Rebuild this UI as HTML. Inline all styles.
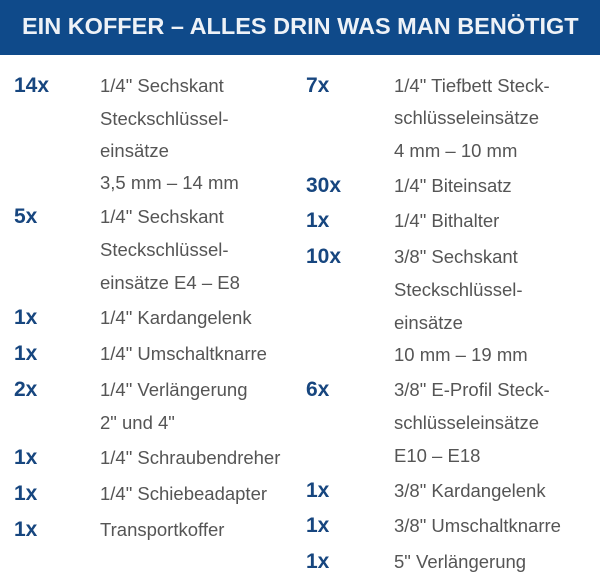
<!DOCTYPE html>
<html><head><meta charset="utf-8"><style>
body{margin:0;width:600px;height:576px;background:#fff;position:relative;overflow:hidden;font-family:"Liberation Sans",Arial,sans-serif}
#hdr{position:absolute;left:0;top:0;width:600px;height:55px;background:#0f4a8a}
#hdr span{position:absolute;left:22px;top:13px;font-size:23.5px;font-weight:bold;color:#eef2f7;white-space:nowrap}
.q{position:absolute;font-weight:bold;font-size:21px;color:#17467f;line-height:24px}
.d{position:absolute;font-size:18.5px;color:#555;line-height:24px;white-space:nowrap}
</style></head><body>
<div id="hdr"><span>EIN KOFFER – ALLES DRIN WAS MAN BENÖTIGT</span></div>
<div>
<div class="q" style="left:14px;top:74px">14x</div>
<div class="d" style="left:100px;top:74px">1/4" Sechskant</div>
<div class="d" style="left:100px;top:107px">Steckschlüssel-</div>
<div class="d" style="left:100px;top:139px">einsätze</div>
<div class="d" style="left:100px;top:171px">3,5 mm – 14 mm</div>
<div class="q" style="left:14px;top:205px">5x</div>
<div class="d" style="left:100px;top:205px">1/4" Sechskant</div>
<div class="d" style="left:100px;top:238px">Steckschlüssel-</div>
<div class="d" style="left:100px;top:271px">einsätze E4 – E8</div>
<div class="q" style="left:14px;top:306px">1x</div>
<div class="d" style="left:100px;top:306px">1/4" Kardangelenk</div>
<div class="q" style="left:14px;top:342px">1x</div>
<div class="d" style="left:100px;top:342px">1/4" Umschaltknarre</div>
<div class="q" style="left:14px;top:378px">2x</div>
<div class="d" style="left:100px;top:378px">1/4" Verlängerung</div>
<div class="d" style="left:100px;top:411px">2" und 4"</div>
<div class="q" style="left:14px;top:446px">1x</div>
<div class="d" style="left:100px;top:446px">1/4" Schraubendreher</div>
<div class="q" style="left:14px;top:482px">1x</div>
<div class="d" style="left:100px;top:482px">1/4" Schiebeadapter</div>
<div class="q" style="left:14px;top:518px">1x</div>
<div class="d" style="left:100px;top:518px">Transportkoffer</div>
</div>
<div>
<div class="q" style="left:306px;top:74px">7x</div>
<div class="d" style="left:394px;top:74px">1/4" Tiefbett Steck-</div>
<div class="d" style="left:394px;top:106px">schlüsseleinsätze</div>
<div class="d" style="left:394px;top:139px">4 mm – 10 mm</div>
<div class="q" style="left:306px;top:174px">30x</div>
<div class="d" style="left:394px;top:174px">1/4" Biteinsatz</div>
<div class="q" style="left:306px;top:209px">1x</div>
<div class="d" style="left:394px;top:209px">1/4" Bithalter</div>
<div class="q" style="left:306px;top:245px">10x</div>
<div class="d" style="left:394px;top:245px">3/8" Sechskant</div>
<div class="d" style="left:394px;top:278px">Steckschlüssel-</div>
<div class="d" style="left:394px;top:311px">einsätze</div>
<div class="d" style="left:394px;top:343px">10 mm – 19 mm</div>
<div class="q" style="left:306px;top:378px">6x</div>
<div class="d" style="left:394px;top:378px">3/8" E-Profil Steck-</div>
<div class="d" style="left:394px;top:411px">schlüsseleinsätze</div>
<div class="d" style="left:394px;top:444px">E10 – E18</div>
<div class="q" style="left:306px;top:479px">1x</div>
<div class="d" style="left:394px;top:479px">3/8" Kardangelenk</div>
<div class="q" style="left:306px;top:514px">1x</div>
<div class="d" style="left:394px;top:514px">3/8" Umschaltknarre</div>
<div class="q" style="left:306px;top:550px">1x</div>
<div class="d" style="left:394px;top:550px">5" Verlängerung</div>
</div>
</body></html>
